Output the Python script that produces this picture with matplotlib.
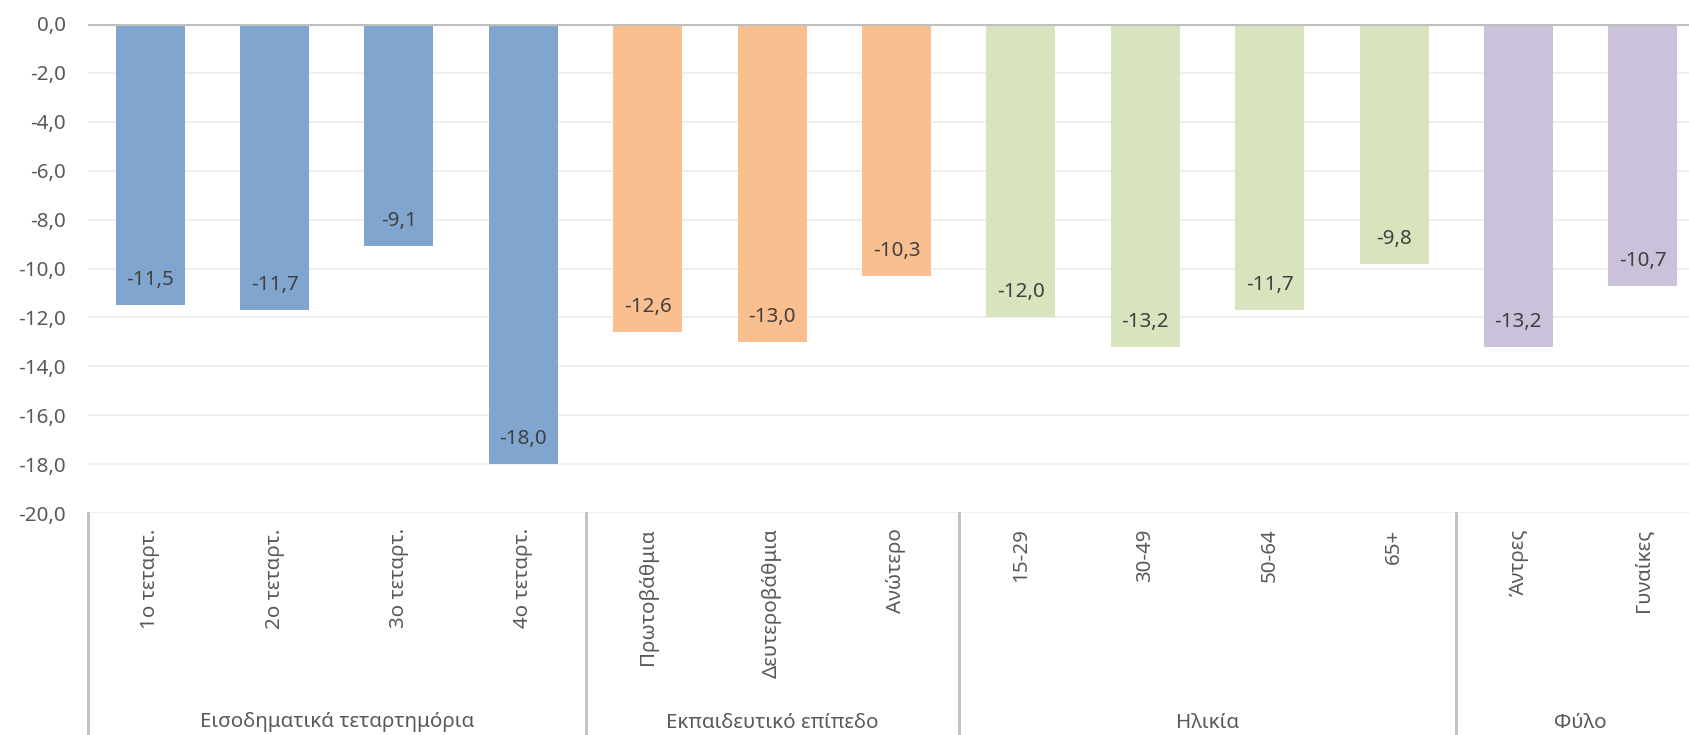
import matplotlib
matplotlib.use("Agg")
import matplotlib.pyplot as plt
import matplotlib.transforms as mtransforms
import numpy as np

plt.rcParams["font.family"] = ["Noto Sans", "DejaVu Sans"]

# data
categories = ["1ο τεταρτ.", "2ο τεταρτ.", "3ο τεταρτ.", "4ο τεταρτ.",
              "Πρωτοβάθμια", "Δευτεροβάθμια", "Ανώτερο",
              "15-29", "30-49", "50-64", "65+",
              "Άντρες", "Γυναίκες"]
values = [-11.5, -11.7, -9.1, -18.0,
          -12.6, -13.0, -10.3,
          -12.0, -13.2, -11.7, -9.8,
          -13.2, -10.7]
group_names = ["Εισοδηματικά τεταρτημόρια", "Εκπαιδευτικό επίπεδο", "Ηλικία", "Φύλο"]
group_sizes = [4, 3, 4, 2]
group_colors = ["#80A6D0", "#F9BF8F", "#D7E4BD", "#CCC1DA"]
y_ticks = np.arange(0, -21, -2)

colors = []
for c, n in zip(group_colors, group_sizes):
    colors += [c] * n

fig = plt.figure(figsize=(16.9, 7.35), dpi=100)
ax = fig.add_axes([88 / 1690, 222 / 735, 1617 / 1690, 489 / 735])

x = np.arange(len(categories))
ax.bar(x, values, width=0.555, color=colors, zorder=2)

fs = 14.8
for xi, v in zip(x, values):
    ax.annotate(f"{v:.1f}".replace(".", ","), (xi, v), xytext=(0, 18),
                textcoords="offset points", ha="center", va="center",
                fontsize=fs, color="#404040", zorder=3)

ax.set_xlim(-0.5, len(categories) - 0.5)
ax.set_ylim(-20, 0)
ax.set_yticks(y_ticks)
ax.set_yticklabels([f"{t:.1f}".replace(".", ",") for t in y_ticks])
ax.tick_params(axis="y", length=0, pad=16, labelsize=fs, labelcolor="#595959")
ax.set_xticks([])
ax.grid(axis="y", color="#EBEBEB", lw=1.2, zorder=0)
for s in ax.spines.values():
    s.set_visible(False)
ax.axhline(0, color="#BFBFBF", lw=3, zorder=4)

# category labels under the axis
trans = mtransforms.blended_transform_factory(ax.transData, ax.transAxes)
for xi, lab in zip(x, categories):
    ax.annotate(lab, (xi, 0), xycoords=trans, xytext=(0, -11),
                textcoords="offset points", rotation=90, ha="center", va="top",
                fontsize=fs, color="#595959", annotation_clip=False)

# group labels and separators
bottom = -222 / 489
start = 0
for name, n in zip(group_names, group_sizes):
    ax.plot([start - 0.5, start - 0.5], [0, bottom], transform=trans,
            color="#BFBFBF", lw=2, clip_on=False)
    ax.annotate(name, ((start + start + n - 1) / 2, bottom), xycoords=trans,
                xytext=(0, 9), textcoords="offset points", ha="center",
                va="center", fontsize=fs, color="#595959", annotation_clip=False)
    start += n

plt.savefig("out.png", dpi=100)
plt.close()
